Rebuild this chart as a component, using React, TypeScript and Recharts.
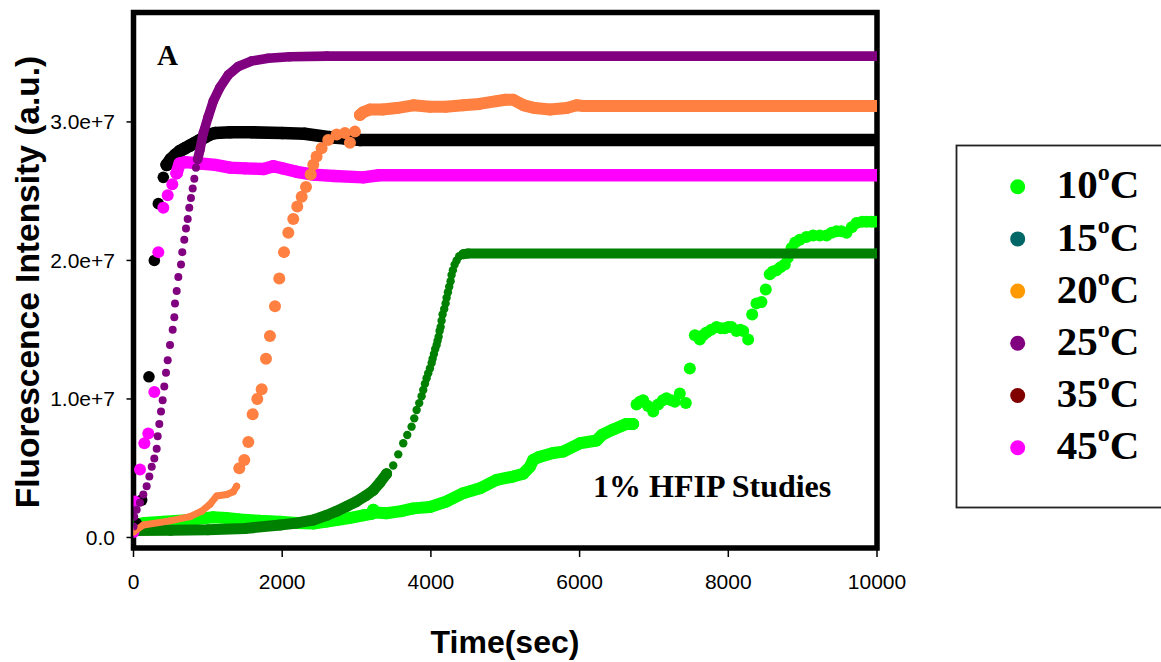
import React from 'react';
import { ScatterChart, Scatter, XAxis, YAxis, ReferenceArea } from 'recharts';

// values are fluorescence intensity in units of 1e7 a.u., time in sec
type Pt = [number, number];

const t10Band: Pt[] = [[0,0.09],[150,0.105],[401,0.114],[700,0.125],[1073,0.146],[1250,0.14],[1432,0.13],[1700,0.12],[1970,0.114],[2200,0.105],[2418,0.10],[2600,0.115],[2732,0.126],[2900,0.14],[3090,0.16],[3200,0.17],[3224,0.20],[3260,0.18],[3400,0.175],[3600,0.19],[3762,0.21],[3987,0.22],[4211,0.26],[4435,0.32],[4659,0.355],[4883,0.415],[5107,0.44],[5241,0.46],[5331,0.51],[5376,0.56],[5450,0.58],[5645,0.61],[5779,0.62],[6004,0.68],[6228,0.70],[6300,0.74],[6452,0.78],[6631,0.82],[6720,0.82]];
const t10Dots: Pt[] = [[6766,0.96],[6810,0.98],[6855,0.99],[6920,0.95],[6990,0.91],[7057,0.96],[7120,0.99],[7169,1.005],[7230,0.99],[7281,0.98],[7348,1.04],[7429,0.97],[7483,1.22],[7550,1.46],[7617,1.43],[7660,1.46],[7707,1.48],[7770,1.50],[7841,1.52],[7900,1.51],[7953,1.51],[8000,1.52],[8043,1.52],[8110,1.49],[8160,1.50],[8200,1.49],[8267,1.43],[8321,1.61],[8379,1.69],[8446,1.70],[8504,1.79],[8558,1.90],[8600,1.92],[8648,1.93],[8700,1.95],[8760,1.97],[8800,2.02],[8850,2.09],[8900,2.13],[8962,2.15],[9050,2.17],[9141,2.18],[9230,2.18],[9321,2.18],[9390,2.20],[9455,2.21],[9520,2.21],[9590,2.20],[9660,2.24],[9724,2.27],[9800,2.28],[9858,2.28],[9920,2.28],[9970,2.28]];

const t15Band: Pt[] = [[0,0.05],[500,0.052],[1000,0.055],[1500,0.065],[1970,0.09],[2200,0.105],[2418,0.126],[2600,0.16],[2732,0.19],[2870,0.225],[3001,0.26],[3120,0.30],[3224,0.34],[3320,0.40],[3404,0.46]];
const t15Dots: Pt[] = [[3493,0.52],[3561,0.60],[3628,0.68],[3682,0.74],[3740,0.80],[3776,0.86],[3808,0.92],[3843,0.97],[3875,1.02],[3897,1.065],[3920,1.11],[3942,1.15],[3964,1.185],[3987,1.22],[4010,1.26],[4023,1.29],[4041,1.325],[4058,1.36],[4077,1.39],[4090,1.42],[4104,1.45],[4117,1.49],[4131,1.52],[4144,1.565],[4157,1.61],[4179,1.65],[4198,1.69],[4211,1.73],[4229,1.77],[4246,1.81],[4265,1.85],[4278,1.895],[4296,1.93],[4319,1.97],[4346,2.00],[4381,2.03],[4435,2.045]];
const t15Plateau: Pt[] = [[4435,2.045],[4502,2.05],[10000,2.05]];

const t20Band: Pt[] = [[0,0.04],[132,0.09],[491,0.12],[760,0.15],[917,0.19],[1029,0.24],[1119,0.30],[1253,0.31],[1342,0.33],[1387,0.37]];
const t20Dots: Pt[] = [[1423,0.50],[1490,0.56],[1544,0.69],[1603,0.89],[1665,1.00],[1724,1.07],[1782,1.29],[1835,1.455],[1903,1.67],[1961,1.87],[2024,2.06],[2082,2.20],[2149,2.30],[2203,2.39],[2262,2.46],[2320,2.53],[2383,2.62],[2418,2.69],[2463,2.75],[2530,2.81],[2619,2.87],[2732,2.91],[2844,2.92],[2911,2.85],[2978,2.93]];
const t20Plateau: Pt[] = [[3045,3.05],[3090,3.07],[3180,3.09],[3350,3.09],[3539,3.10],[3762,3.12],[3987,3.11],[4200,3.11],[4435,3.12],[4650,3.13],[4883,3.15],[5000,3.16],[5107,3.16],[5250,3.12],[5400,3.10],[5600,3.09],[5825,3.10],[5960,3.12],[6050,3.115],[6200,3.115],[10000,3.115]];

const t25Dots: Pt[] = [[0,0.08],[10,0.15],[43,0.20],[87,0.25],[132,0.31],[177,0.37],[213,0.44],[245,0.51],[280,0.57],[312,0.64],[325,0.73],[347,0.82],[370,0.91],[392,0.99],[414,1.09],[437,1.19],[460,1.28],[491,1.39],[527,1.50],[549,1.59],[558,1.69],[581,1.78],[603,1.88],[639,1.97],[656,2.06],[683,2.15],[706,2.23],[729,2.30],[750,2.38],[773,2.45],[796,2.52],[818,2.59],[840,2.67],[863,2.73]];
const t25Plateau: Pt[] = [[863,2.73],[894,2.80],[939,2.92],[1006,3.04],[1073,3.15],[1163,3.25],[1275,3.34],[1409,3.40],[1589,3.44],[1813,3.46],[2100,3.47],[2600,3.475],[10000,3.475]];

const t35Dots: Pt[] = [[40,0.10],[110,0.27],[208,1.16],[280,2.00],[334,2.41],[401,2.60],[446,2.69]];
const t35Plateau: Pt[] = [[446,2.69],[500,2.73],[558,2.76],[625,2.79],[692,2.81],[760,2.83],[827,2.85],[894,2.87],[961,2.89],[1030,2.91],[1100,2.92],[1300,2.925],[1600,2.925],[2000,2.92],[2300,2.915],[2640,2.89],[2850,2.88],[3050,2.87],[10000,2.87]];

const t45Dots: Pt[] = [[0,0.04],[20,0.26],[87,0.49],[146,0.68],[199,0.75],[280,1.05],[334,2.06],[401,2.38],[460,2.47],[522,2.55],[580,2.63]];
const t45Plateau: Pt[] = [[580,2.63],[620,2.70],[700,2.71],[900,2.70],[1100,2.69],[1300,2.67],[1500,2.665],[1750,2.66],[1880,2.68],[2000,2.665],[2193,2.64],[2418,2.62],[2700,2.61],[3090,2.60],[3300,2.615],[10000,2.615]];

const xTicks = [0, 2000, 4000, 6000, 8000, 10000];
const yTicks = [0, 1, 2, 3];

const legendLabels = ['10', '15', '20', '25', '35', '45'];
const legendColors = ['#00FF00', '#006666', '#FF9900', '#800080', '#800000', '#FF00FF'];

const SANS = '"Liberation Sans", Arial, sans-serif';
const SERIF = '"Liberation Serif", "Times New Roman", serif';

const toData = (a: Pt[]) => a.map(([x, y]) => ({ x, y }));

// drawing order: later ones sit on top
const layers = [
  { key: 't10b', data: t10Band, color: '#00FF00', r: 6, band: true },
  { key: 't10d', data: t10Dots, color: '#00FF00', r: 6, band: false },
  { key: 't15b', data: t15Band, color: '#008000', r: 5.5, band: true },
  { key: 't15d', data: t15Dots, color: '#008000', r: 4.2, band: false },
  { key: 't15p', data: t15Plateau, color: '#008000', r: 5, band: true },
  { key: 't35d', data: t35Dots, color: '#000000', r: 5.8, band: false },
  { key: 't35p', data: t35Plateau, color: '#000000', r: 6.3, band: true },
  { key: 't45d', data: t45Dots, color: '#FF00FF', r: 6, band: false },
  { key: 't45p', data: t45Plateau, color: '#FF00FF', r: 6.2, band: true },
  { key: 't20b', data: t20Band, color: '#FF8040', r: 3.5, band: true },
  { key: 't20d', data: t20Dots, color: '#FF8040', r: 6, band: false },
  { key: 't20p', data: t20Plateau, color: '#FF8040', r: 6, band: true },
  { key: 't25d', data: t25Dots, color: '#800080', r: 4, band: false },
  { key: 't25p', data: t25Plateau, color: '#800080', r: 4.8, band: true },
];

const fmtY = (v: number) => (v === 0 ? '0.0' : `${v.toFixed(1)}e+7`);

const XTick = (p: any) => (
  <text x={p.x} y={p.y} dy={15} textAnchor="middle" fontSize={21} fontFamily={SANS} fill="#000">
    {p.payload.value}
  </text>
);

const YTick = (p: any) => (
  <text x={p.x} y={p.y} dy={7.5} textAnchor="end" fontSize={21} fontFamily={SANS} fill="#000">
    {fmtY(p.payload.value)}
  </text>
);

export default function App() {
  return (
    <div style={{ position: 'absolute', left: 0, top: 0, width: 1161, height: 662, background: '#fff', overflow: 'hidden' }}>
      <ScatterChart width={1161} height={662} margin={{ top: 12.5, right: 284, bottom: 84, left: 73.5 }}>
        <XAxis
          type="number"
          dataKey="x"
          domain={[0, 10000]}
          ticks={xTicks}
          allowDataOverflow
          axisLine={false}
          tickSize={9}
          tickMargin={17}
          tickLine={{ stroke: '#000', strokeWidth: 1.5 }}
          tick={<XTick />}
        />
        <YAxis
          type="number"
          dataKey="y"
          domain={[-0.076, 3.79]}
          ticks={yTicks}
          allowDataOverflow
          width={60}
          axisLine={false}
          tickSize={7}
          tickMargin={11.5}
          tickLine={{ stroke: '#000', strokeWidth: 1.5 }}
          tick={<YTick />}
        />
        {layers.map((l) => (
          <Scatter
            key={l.key}
            data={toData(l.data)}
            fill={l.color}
            isAnimationActive={false}
            line={l.band ? { stroke: l.color, strokeWidth: l.r * 2, strokeLinecap: 'round', strokeLinejoin: 'round' } : false}
            shape={(p: any) => <circle cx={p.cx} cy={p.cy} r={l.r} fill={l.color} />}
          />
        ))}
        <ReferenceArea x1={0} x2={10000} y1={-0.076} y2={3.79} fill="none" stroke="#000" strokeWidth={5.5} ifOverflow="visible" />
      </ScatterChart>
      <svg width={1161} height={662} style={{ position: 'absolute', left: 0, top: 0, pointerEvents: 'none' }}>
        <text x={157} y={65} fontFamily={SERIF} fontWeight="bold" fontSize={29} fill="#000">A</text>
        <text x={593} y={497} fontFamily={SERIF} fontWeight="bold" fontSize={32} fill="#000">1% HFIP Studies</text>
        <text x={505} y={653} textAnchor="middle" fontFamily={SANS} fontWeight="bold" fontSize={32} fill="#000">Time(sec)</text>
        <text x={38.5} y={282} textAnchor="middle" transform="rotate(-90 38.5 282)" fontFamily={SANS} fontWeight="bold" fontSize={33.5} fill="#000">
          Fluorescence Intensity (a.u.)
        </text>
        <rect x={956.5} y={145.5} width={230} height={362} fill="#fff" stroke="#222" strokeWidth={1.8} />
        {legendLabels.map((t, i) => (
          <g key={t}>
            <circle cx={1017.7} cy={186.7 + 52.2 * i} r={7.5} fill={legendColors[i]} />
            <text x={1056.7} y={198.3 + 52.2 * i} fontFamily={SERIF} fontWeight="bold" fontSize={41} fill="#000">
              {t}
              <tspan fontSize={24} dy={-18}>o</tspan>
              <tspan dy={18}>C</tspan>
            </text>
          </g>
        ))}
      </svg>
    </div>
  );
}
